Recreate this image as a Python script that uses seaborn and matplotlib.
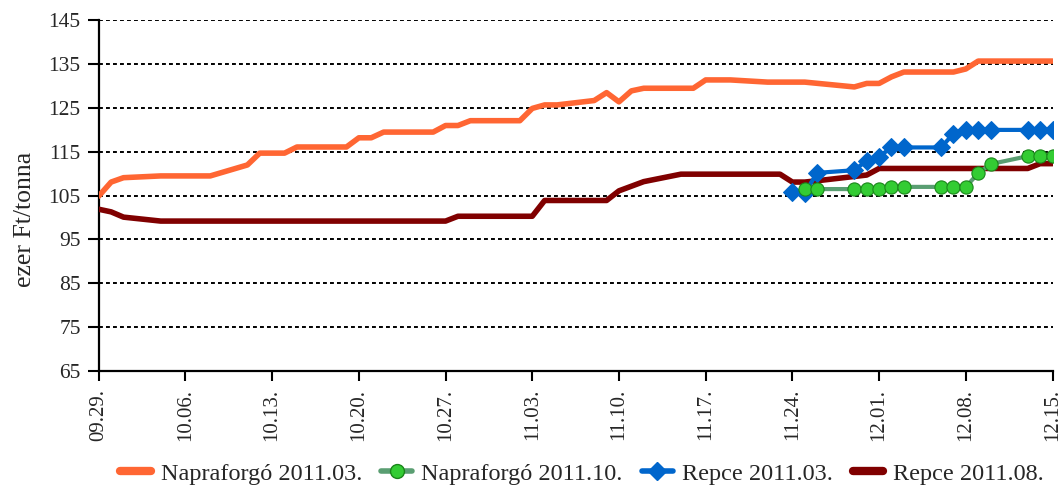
import matplotlib
matplotlib.use("Agg")
import matplotlib.pyplot as plt
from matplotlib.lines import Line2D
import seaborn as sns
import pandas as pd
import numpy as np

# ---------------- data ----------------
start_date = "2011-09-29"

napra03_days = [0, 1, 2, 5, 9, 12, 13, 15, 16, 20, 21, 22, 23, 27, 28, 29, 30, 34, 35, 36, 37,
                40, 41, 42, 43, 44, 48, 49, 51, 54, 57, 61, 62, 63, 64, 65, 69, 70, 71, 76, 77]
napra03_vals = [104.9, 108.1, 109.1, 109.5, 109.5, 112.0, 114.7, 114.7, 116.1, 116.1, 118.2, 118.2,
                119.5, 119.5, 121.0, 121.0, 122.1, 122.1, 124.9, 125.7, 125.7, 126.7, 128.5, 126.4,
                128.9, 129.5, 129.5, 131.4, 131.4, 130.9, 130.9, 129.8, 130.6, 130.6, 132.1, 133.2,
                133.2, 133.9, 135.7, 135.7, 135.7]

napra10_days = [57, 58, 61, 62, 63, 64, 65, 68, 69, 70, 71, 72, 75, 76, 77]
napra10_vals = [106.5, 106.5, 106.5, 106.5, 106.5, 107.0, 107.0, 107.0, 107.0, 107.0,
                110.1, 112.2, 114.0, 114.0, 114.0]

repce03_days = [56, 57, 58, 61, 62, 63, 64, 65, 68, 69, 70, 71, 72, 75, 76, 77]
repce03_vals = [105.9, 105.6, 110.2, 110.8, 113.0, 113.9, 116.0, 116.0, 116.0, 119.1,
                120.0, 120.0, 120.0, 120.0, 120.0, 120.0]

repce08_days = [0, 1, 2, 5, 28, 29, 35, 36, 41, 42, 44, 47, 55, 56, 57, 58, 62, 63, 75, 76, 77]
repce08_vals = [101.9, 101.3, 100.1, 99.2, 99.2, 100.3, 100.3, 103.9, 103.9, 106.1, 108.2,
                109.9, 109.9, 108.1, 108.1, 108.4, 109.7, 111.2, 111.2, 112.3, 112.3]

series_names = ["Napraforgó 2011.03.", "Napraforgó 2011.10.", "Repce 2011.03.", "Repce 2011.08."]

tick_days = [0, 7, 14, 21, 28, 35, 42, 49, 56, 63, 70, 77]
tick_labels = ["09.29.", "10.06.", "10.13.", "10.20.", "10.27.", "11.03.",
               "11.10.", "11.17.", "11.24.", "12.01.", "12.08.", "12.15."]

y_ticks = [65, 75, 85, 95, 105, 115, 125, 135, 145]
y_label = "ezer Ft/tonna"

# ---------------- styling ----------------
sns.set_style("white")
plt.rcParams["font.family"] = ["Liberation Serif", "DejaVu Serif"]

c_orange = "#FF6633"
c_green_line = "#5A9E72"
c_green_mark = "#33CC33"
c_blue = "#0066CC"
c_darkred = "#800000"

base = pd.Timestamp(start_date)


def frame(days, vals, name):
    return pd.DataFrame({"date": base + pd.to_timedelta(days, unit="D"),
                         "value": vals, "series": name})


df_n03 = frame(napra03_days, napra03_vals, series_names[0])
df_n10 = frame(napra10_days, napra10_vals, series_names[1])
df_r03 = frame(repce03_days, repce03_vals, series_names[2])
df_r08 = frame(repce08_days, repce08_vals, series_names[3])

fig = plt.figure(figsize=(10.64, 4.87), dpi=100)
ax = fig.add_axes([0.0928, 0.2382, 0.8964, 0.7201])

sns.lineplot(data=df_r08, x="date", y="value", ax=ax, color=c_darkred, lw=4.0,
             legend=False, zorder=3)
sns.lineplot(data=df_n03, x="date", y="value", ax=ax, color=c_orange, lw=4.0,
             legend=False, zorder=3)
sns.lineplot(data=df_r03, x="date", y="value", ax=ax, color=c_blue, lw=3.0,
             marker="D", markersize=9, markerfacecolor=c_blue, markeredgecolor=c_blue,
             legend=False, zorder=4)
sns.lineplot(data=df_n10, x="date", y="value", ax=ax, color=c_green_line, lw=3.0,
             marker="o", markersize=9.5, markerfacecolor=c_green_mark, markeredgecolor="#1A861A",
             markeredgewidth=0.8, legend=False, zorder=5)

# axes
ax.set_ylim(65, 145)
ax.set_yticks(y_ticks)
ax.set_xlim(base, base + pd.Timedelta(days=77))
ax.set_xticks([base + pd.Timedelta(days=d) for d in tick_days])
ax.set_xticklabels(tick_labels, rotation=90, fontsize=15)
ax.tick_params(axis="y", labelsize=15.5)
ax.set_xlabel("")
ax.set_ylabel(y_label, fontsize=18.5)
ax.yaxis.set_label_coords(-0.066, 0.433)

ax.tick_params(axis="y", direction="out", length=8, width=1.5, color="black", pad=5, left=True)
ax.tick_params(axis="x", direction="out", length=7, width=1.5, color="black", pad=6, bottom=True)

for s in ["top", "right"]:
    ax.spines[s].set_visible(False)
for s in ["left", "bottom"]:
    ax.spines[s].set_color("black")
    ax.spines[s].set_linewidth(1.6)

ax.grid(False)
for yv in y_ticks[1:]:
    ax.axhline(yv, color="black", lw=1.4, ls=(0, (2, 1.6)), zorder=1)

# legend
handles = [
    Line2D([], [], color=c_orange, lw=6),
    Line2D([], [], color=c_green_line, lw=4, marker="o", markersize=10,
           markerfacecolor=c_green_mark, markeredgecolor="#1A861A"),
    Line2D([], [], color=c_blue, lw=4, marker="D", markersize=9,
           markerfacecolor=c_blue, markeredgecolor=c_blue),
    Line2D([], [], color=c_darkred, lw=6),
]
fig.legend(handles, series_names, loc="center", bbox_to_anchor=(0.547, 0.027), ncol=4,
           frameon=False, fontsize=17.5, handlelength=1.25, handletextpad=0.4,
           columnspacing=0.8)

fig.savefig("out.png", dpi=100)
